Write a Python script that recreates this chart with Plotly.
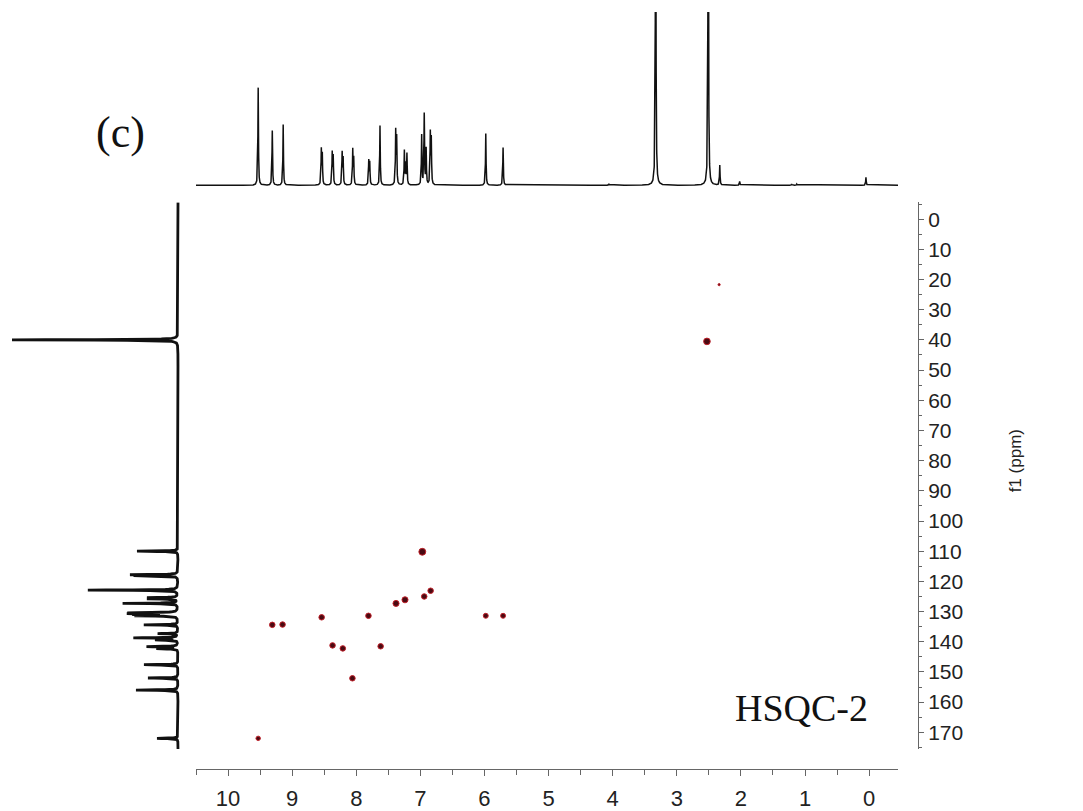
import numpy as np
import plotly.graph_objects as go

# ---------------- data ----------------
# 1H projection (F2): peak positions (ppm) and heights (arbitrary units)
h1_ppm = [9.53, 9.31, 9.14, 8.545, 8.53, 8.375, 8.36, 8.22, 8.205, 8.055, 8.04,
          7.805, 7.79, 7.63, 7.385, 7.37, 7.25, 7.23, 7.21, 6.98, 6.94, 6.91,
          6.845, 6.83, 5.98, 5.71, 4.06, 3.33, 2.51, 2.33, 2.02, 1.21, 1.13, 0.05]
h1_height = [98, 55, 61, 35, 30, 32, 28, 32, 26, 35, 26,
             24, 22, 60, 53, 46, 34, 20, 31, 50, 71, 36,
             51, 45, 52, 38, 1.5, 400, 400, 20, 4, 1.2, 1.2, 8]

# 13C projection (F1): peak positions (ppm) and heights (arbitrary units)
c13_ppm = [40.0, 110.0, 117.8, 118.1, 122.9, 125.4, 125.8, 127.3, 130.4, 130.7,
           131.0, 131.4, 134.4, 137.3, 138.7, 139.4, 141.6, 142.3, 147.6, 152.0,
           156.0, 172.0]
c13_height = [166, 41, 44, 40, 90, 29, 29, 55, 45, 42,
              38, 40, 34, 20, 44, 22, 31, 21, 34, 30,
              42, 21]

# HSQC cross peaks: 1H shift, 13C shift, relative intensity
hsqc_h = [9.53, 9.31, 9.15, 8.54, 8.37, 8.21, 8.06, 7.81, 7.62, 7.38, 7.24,
          6.97, 6.94, 6.84, 5.98, 5.71, 2.53, 2.34]
hsqc_c = [172.0, 134.4, 134.3, 131.9, 141.2, 142.2, 152.1, 131.4, 141.5, 127.3,
          126.1, 110.2, 125.0, 123.1, 131.4, 131.4, 40.5, 21.7]
hsqc_int = [0.8, 1.0, 1.0, 1.0, 1.0, 1.0, 1.0, 1.0, 1.0, 1.1, 1.1,
            1.25, 1.0, 1.0, 0.9, 0.9, 1.2, 0.4]

x_ticks = list(range(0, 11))
y_ticks = list(range(0, 171, 10))

# ---------------- spectra ----------------
def lorentz(axis, centers, heights, hwhm):
    out = np.zeros_like(axis)
    for c, h in zip(centers, heights):
        out += h * hwhm ** 2 / ((axis - c) ** 2 + hwhm ** 2)
    return out

f2_axis = np.arange(-450, 10501) / 1000.0
f2_spec = lorentz(f2_axis, h1_ppm, h1_height, 0.005)

f1_axis = np.arange(-110, 3511) / 20.0
f1_spec = lorentz(f1_axis, c13_ppm, c13_height, 0.1)

# ---------------- layout helpers ----------------
W, H = 1083, 811
def px_x(p):
    return p / W
def px_y(p):
    return 1 - p / H

X_RANGE = [10.5, -0.45]
Y_RANGE = [175.6, -5.6]
AX_COLOR = "#666666"
X_TICK_FONT = dict(family="Liberation Sans, Arial, sans-serif", size=22, color="#222222")
Y_TICK_FONT = dict(family="Liberation Sans, Arial, sans-serif", size=21, color="#222222")

fig = go.Figure()

# 2D cross peaks
marker_sizes = [5.5 * v for v in hsqc_int]
fig.add_trace(go.Scatter(
    x=hsqc_h, y=hsqc_c, mode="markers",
    marker=dict(size=marker_sizes, color="#4a0a12", opacity=1,
                line=dict(color="#c01f28", width=1)),
    xaxis="x", yaxis="y", showlegend=False, hoverinfo="x+y"))

# top 1H projection
fig.add_trace(go.Scatter(
    x=f2_axis, y=f2_spec, mode="lines",
    line=dict(color="#111111", width=1.5),
    xaxis="x2", yaxis="y2", showlegend=False, hoverinfo="skip"))

# left 13C projection (drawn sideways)
fig.add_trace(go.Scatter(
    x=f1_spec, y=f1_axis, mode="lines",
    line=dict(color="#111111", width=2.8),
    xaxis="x3", yaxis="y3", showlegend=False, hoverinfo="skip"))

main_x_dom = [px_x(196), px_x(898)]
main_y_dom = [px_y(752), px_y(203)]

fig.update_layout(
    width=W, height=H,
    margin=dict(l=0, r=0, t=0, b=0),
    paper_bgcolor="white", plot_bgcolor="rgba(0,0,0,0)",
    xaxis=dict(
        domain=main_x_dom, range=X_RANGE, anchor="free", position=px_y(772),
        showgrid=False, zeroline=False, showline=True, linecolor=AX_COLOR, linewidth=1,
        tickmode="array", tickvals=x_ticks, ticks="outside", ticklen=6,
        tickcolor=AX_COLOR, tickfont=X_TICK_FONT, ticklabelstandoff=3,
        minor=dict(dtick=0.5, ticks="outside", ticklen=5, tickcolor=AX_COLOR),
    ),
    yaxis=dict(
        domain=main_y_dom, range=Y_RANGE, anchor="free", position=px_x(918),
        side="right",
        showgrid=False, zeroline=False, showline=True, linecolor=AX_COLOR, linewidth=1,
        tickmode="array", tickvals=y_ticks, ticks="outside", ticklen=5,
        tickcolor=AX_COLOR, tickfont=Y_TICK_FONT, ticklabelstandoff=0,
        minor=dict(dtick=5, ticks="outside", ticklen=3, tickcolor=AX_COLOR),
    ),
    xaxis2=dict(domain=main_x_dom, range=X_RANGE, anchor="y2", visible=False),
    yaxis2=dict(domain=[px_y(192), px_y(12)], range=[-6, 174], anchor="x2", visible=False),
    xaxis3=dict(domain=[0, px_x(195)], range=[178, -17], anchor="y3", visible=False),
    yaxis3=dict(domain=main_y_dom, range=Y_RANGE, anchor="x3", visible=False),
    annotations=[
        dict(text="(c)", x=px_x(120), y=px_y(133), xref="paper", yref="paper",
             showarrow=False, xanchor="center", yanchor="middle",
             font=dict(family="Liberation Serif, Times New Roman, serif", size=44, color="#111111")),
        dict(text="HSQC-2", x=px_x(801), y=px_y(711), xref="paper", yref="paper",
             showarrow=False, xanchor="center", yanchor="middle",
             font=dict(family="Liberation Serif, Times New Roman, serif", size=38, color="#111111")),
        dict(text="f1 (ppm)", x=px_x(1015), y=px_y(463), xref="paper", yref="paper",
             showarrow=False, xanchor="center", yanchor="middle", textangle=-90,
             font=dict(family="Liberation Sans, Arial, sans-serif", size=17, color="#222222")),
    ],
)

fig.write_html("out.html")
